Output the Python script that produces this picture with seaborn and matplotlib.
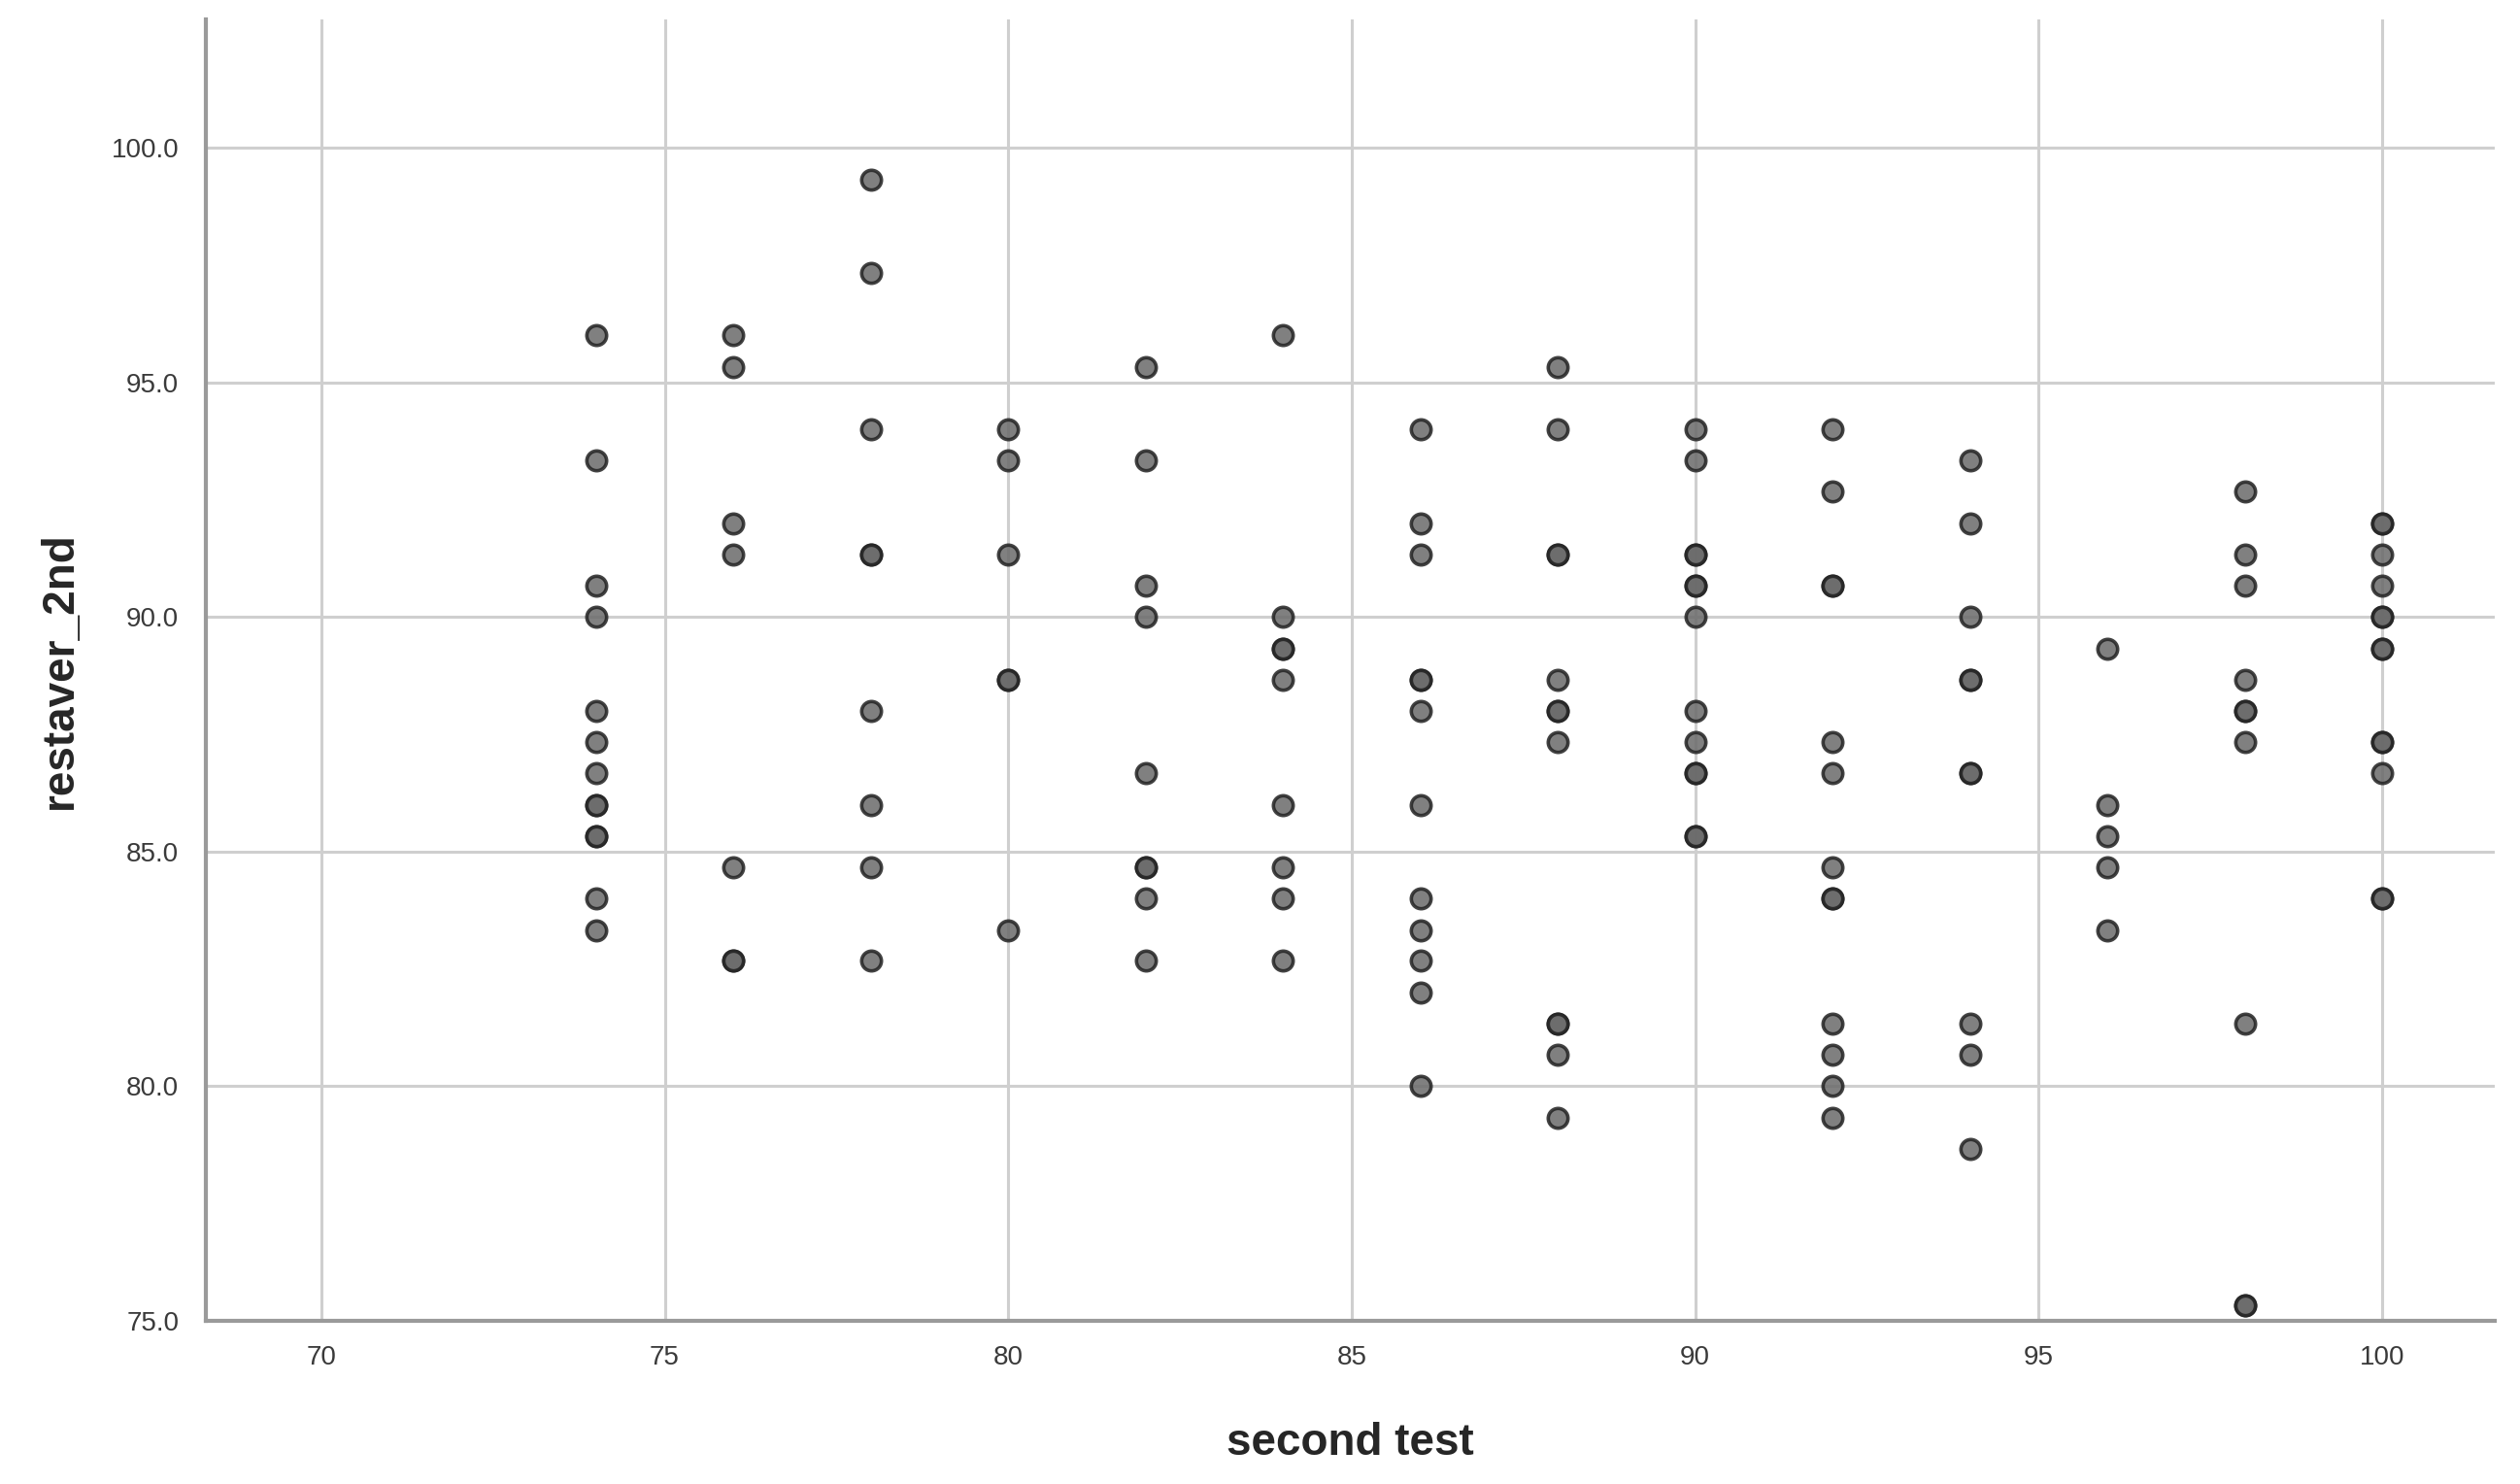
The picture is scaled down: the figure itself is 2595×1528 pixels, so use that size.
import pandas as pd
import matplotlib
matplotlib.use("Agg")
import matplotlib.pyplot as plt
import seaborn as sns

# ── Data: restaver_2nd values per "second test" score ───────────────────────
SCORES = [74, 76, 78, 80, 82, 84, 86, 88, 90, 92, 94, 96, 98, 100]

y_74 = [96.0, 93.33, 90.67, 90.0, 88.0, 87.33, 86.67, 86.0, 86.0, 85.33, 85.33, 84.0, 83.33]
y_76 = [96.0, 95.33, 92.0, 91.33, 84.67, 82.67, 82.67]
y_78 = [99.33, 97.33, 94.0, 91.33, 91.33, 88.0, 86.0, 84.67, 82.67]
y_80 = [94.0, 93.33, 91.33, 88.67, 88.67, 83.33]
y_82 = [95.33, 93.33, 90.67, 90.0, 86.67, 84.67, 84.67, 84.0, 82.67]
y_84 = [96.0, 90.0, 89.33, 89.33, 88.67, 86.0, 84.67, 84.0, 82.67]
y_86 = [94.0, 92.0, 91.33, 88.67, 88.67, 88.0, 86.0, 84.0, 83.33, 82.67, 82.0, 80.0]
y_88 = [95.33, 94.0, 91.33, 91.33, 88.67, 88.0, 88.0, 87.33, 81.33, 81.33, 80.67, 79.33]
y_90 = [94.0, 93.33, 91.33, 91.33, 90.67, 90.67, 90.0, 88.0, 87.33, 86.67, 86.67, 85.33, 85.33]
y_92 = [94.0, 92.67, 90.67, 90.67, 87.33, 86.67, 84.67, 84.0, 84.0, 81.33, 80.67, 80.0, 79.33]
y_94 = [93.33, 92.0, 90.0, 88.67, 88.67, 86.67, 86.67, 81.33, 80.67, 78.67]
y_96 = [89.33, 86.0, 85.33, 84.67, 83.33]
y_98 = [92.67, 91.33, 90.67, 88.67, 88.0, 88.0, 87.33, 81.33, 75.33, 75.33]
y_100 = [92.0, 92.0, 91.33, 90.67, 90.0, 90.0, 89.33, 89.33, 87.33, 87.33, 86.67, 84.0, 84.0]

COLUMNS = [y_74, y_76, y_78, y_80, y_82, y_84, y_86, y_88, y_90, y_92, y_94, y_96, y_98, y_100]

X_TICKS = [70, 75, 80, 85, 90, 95, 100]
Y_TICKS = [75, 80, 85, 90, 95, 100]

rows = [(s, v) for s, col in zip(SCORES, COLUMNS) for v in col]
df = pd.DataFrame(rows, columns=["second test", "restaver_2nd"])

# ── Plot ─────────────────────────────────────────────────────────────────────
sns.set_style("white")
plt.rcParams["font.family"] = ["Liberation Sans", "DejaVu Sans"]

fig = plt.figure(figsize=(25.95, 15.28), dpi=100)
ax = fig.add_axes([0.0817, 0.110, 0.9083, 0.877])

sns.scatterplot(data=df, x="second test", y="restaver_2nd", ax=ax,
                s=215, color="#6a6a6a", edgecolor="#222222", linewidth=2.6,
                alpha=0.85, zorder=3)

ax.set_xlim(68.32, 101.64)
ax.set_ylim(75, 102.74)
ax.set_xticks(X_TICKS)
ax.set_yticks(Y_TICKS)
ax.set_yticklabels([f"{t:.1f}" for t in Y_TICKS])
ax.grid(True, color="#cfcfcf", linewidth=2.2, zorder=0)
ax.set_axisbelow(True)

ax.tick_params(axis="both", length=0, labelsize=20, labelcolor="#3a3a3a")
ax.tick_params(axis="x", pad=18)
ax.tick_params(axis="y", pad=20)

for side in ["top", "right"]:
    ax.spines[side].set_visible(False)
for side in ["left", "bottom"]:
    ax.spines[side].set_color("#9a9a9a")
    ax.spines[side].set_linewidth(3)

ax.set_xlabel("second test", fontsize=33, fontweight="bold", labelpad=38)
ax.set_ylabel("restaver_2nd", fontsize=33, fontweight="bold", labelpad=22)

fig.savefig("out.png", dpi=100)
